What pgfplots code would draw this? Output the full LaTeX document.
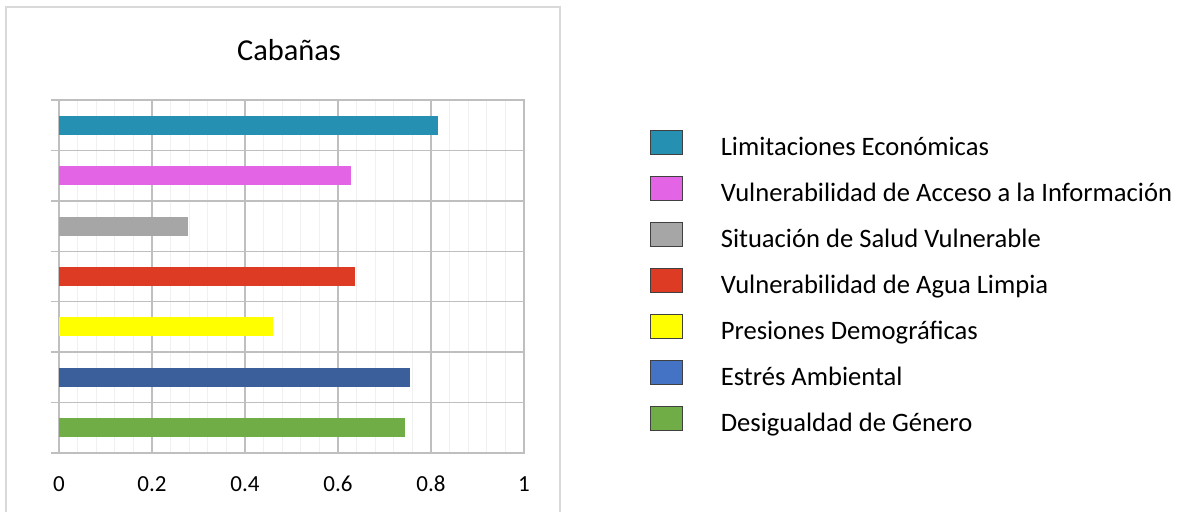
\documentclass[border=0pt]{standalone}
\usepackage{fontspec}
\setmainfont{Carlito}
\usepackage{pgfplots}
\pgfplotsset{compat=1.18}
\definecolor{cteal}{RGB}{37,144,178}
\definecolor{cmag}{RGB}{227,101,230}
\definecolor{cgray}{RGB}{166,166,166}
\definecolor{cred}{RGB}{221,59,35}
\definecolor{cyel}{RGB}{255,255,0}
\definecolor{cbluebar}{RGB}{58,95,155}
\definecolor{cbluelegend}{RGB}{68,114,196}
\definecolor{cgreen}{RGB}{112,173,71}
\begin{document}
\begin{tikzpicture}
\useasboundingbox (0,0) rectangle (589.5pt,256pt);
\draw[black!15, line width=1pt] (3pt,-10pt) rectangle (280pt,252.5pt);
\node[anchor=base, font=\fontsize{15.2}{18}\selectfont, inner sep=0pt] at (144.5pt,225.5pt) {Cabañas};
\begin{axis}[
 at={(29.5pt,29.5pt)}, anchor=south west,
 scale only axis, width=232.5pt, height=176.5pt,
 xbar, bar width=9.5pt, bar shift=0pt,
 xmin=0, xmax=1, ymin=-0.5, ymax=6.5,
 xtick={0,0.2,0.4,0.6,0.8,1},
 minor x tick num=4,
 ytick={-0.5,0.5,...,6.5}, yticklabels={},
 ytick pos=left,
 tick align=outside, major tick length=4pt, minor tick length=0pt,
 xtick style={draw=none},
 ytick style={black!25, line width=0.75pt},
 axis line style={black!25, line width=0.75pt},
 xmajorgrids, xminorgrids, ymajorgrids,
 major grid style={black!25, line width=0.75pt},
 minor grid style={black!6, line width=0.6pt},
 xticklabel style={anchor=base, yshift=-15.5pt, font=\fontsize{11.5}{13}\selectfont},
 /pgf/number format/assume math mode=true,
 legend style={at={(1.271,0.915)}, anchor=north west, draw=none, fill=none,
   inner sep=0pt, outer sep=0pt, row sep=7.33pt,
   font=\fontsize{13.3}{15}\selectfont,
   nodes={inner sep=0pt, text height=12.5pt, text depth=3pt},
   /tikz/every odd column/.append style={column sep=19pt}},
 legend cell align=left,
 legend image code/.code={\draw[#1, draw=black!75, line width=0.4pt] (0pt,-4.25pt) rectangle (16pt,7.75pt);},
]
\addplot[fill=cteal, draw=none] coordinates {(0.815,6)};
\addlegendentry{Limitaciones Económicas}
\addplot[fill=cmag, draw=none] coordinates {(0.628,5)};
\addlegendentry{Vulnerabilidad de Acceso a la Información}
\addplot[fill=cgray, draw=none] coordinates {(0.277,4)};
\addlegendentry{Situación de Salud Vulnerable}
\addplot[fill=cred, draw=none] coordinates {(0.637,3)};
\addlegendentry{Vulnerabilidad de Agua Limpia}
\addplot[fill=cyel, draw=none] coordinates {(0.460,2)};
\addlegendentry{Presiones Demográficas}
\addplot[fill=cbluebar, draw=none, legend image code/.code={\draw[fill=cbluelegend, draw=black!75, line width=0.4pt] (0pt,-4.25pt) rectangle (16pt,7.75pt);}] coordinates {(0.755,1)};
\addlegendentry{Estrés Ambiental}
\addplot[fill=cgreen, draw=none] coordinates {(0.744,0)};
\addlegendentry{Desigualdad de Género}
\end{axis}
\end{tikzpicture}
\end{document}
